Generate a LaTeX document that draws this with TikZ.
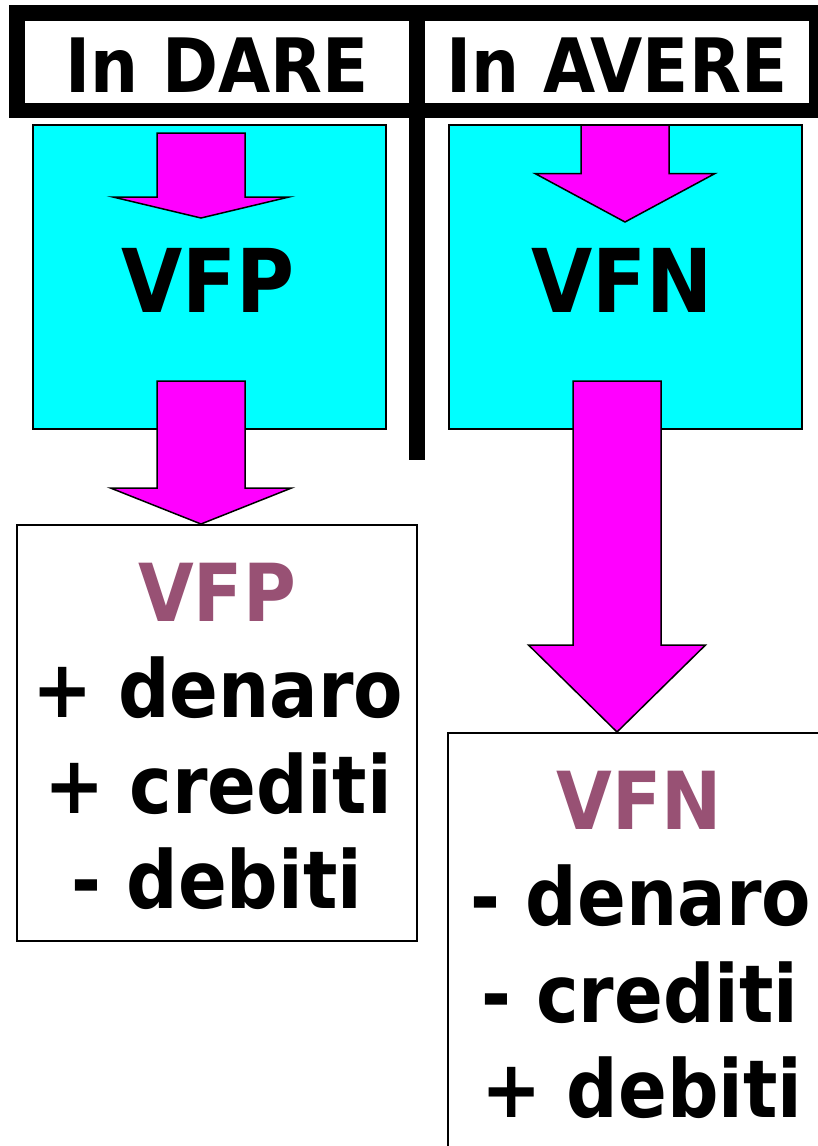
\documentclass[tikz,border=0pt]{standalone}
\usepackage{fontspec}
\setmainfont{DejaVu Sans Condensed}
\usetikzlibrary{positioning}

\definecolor{ciano}{RGB}{0,255,255}
\definecolor{fucsia}{RGB}{255,0,255}
\definecolor{prugna}{RGB}{152,81,116}

% freccia a blocco verso il basso: x centro, y cima, y spalle, y punta, mezzo fusto, mezza testa
\newcommand{\frecciagiu}[6]{%
  \draw[freccia] ({#1-#5},#2) -- ({#1+#5},#2) -- ({#1+#5},#3) -- ({#1+#6},#3)
    -- (#1,#4) -- ({#1-#6},#3) -- ({#1-#5},#3) -- cycle;}

\begin{document}
\begin{tikzpicture}[x=1pt,y=-1pt,
          cella/.style={rectangle,fill=white,inner sep=0pt,minimum width=384pt,minimum height=82pt},
          scatola/.style={rectangle,draw=black,fill=ciano,line width=2pt,inner sep=0pt,minimum width=353pt,minimum height=304pt},
          conto/.style={rectangle,draw=black,fill=white,line width=2pt,inner sep=0pt},
          freccia/.style={draw=black,fill=fucsia,line width=1.5pt,line join=miter},
          titolo/.style={anchor=base,inner sep=0pt,font=\fontsize{75}{90}\selectfont\bfseries},
          grande/.style={anchor=base,inner sep=0pt,font=\fontsize{88}{100}\selectfont\bfseries},
          voce/.style={anchor=base,inner sep=0pt,font=\fontsize{80}{96}\selectfont\bfseries}]
          \useasboundingbox (0,0) rectangle (818,1146);
          \clip (0,0) rectangle (818,1146);
          % intestazione
          \fill (9,5) rectangle (830,118);
          \fill (409,118) rectangle (425,460);
          \node[cella] (dare)  at (217,62) {};
          \node[cella] (avere) at (617,62) {};
          \node[titolo] (daretxt)  at (217,92) {In DARE};
          \node[titolo] (averetxt) at (617,92) {In AVERE};
          % riquadri
          \node[scatola] (vfp) at (209.5,277) {};
          \node[scatola] (vfn) at (625,277) {};
          \node[conto,minimum width=400pt,minimum height=416pt] (contop) at (217,733) {};
          \node[conto,minimum width=392pt,minimum height=437pt] (conton) at (644,951.5) {};
          % frecce
          \frecciagiu{201}{133}{197}{218}{44}{88}
          \frecciagiu{625}{125}{173.5}{222}{44}{90}
          \frecciagiu{201}{381}{488}{524}{44}{90.5}
          \frecciagiu{617}{381}{645}{732}{44}{88.5}
          \node[grande] (vfptxt) at (208,312) {VFP};
          \node[grande] (vfntxt) at (622,312) {VFN};
          % voci
          \node[voce,text=prugna] (pvfp) at (217,621) {VFP};
          \node[voce] (pden) at (218,717) {+ denaro};
          \node[voce] (pcre) at (218,813) {+ crediti};
          \node[voce] (pdeb) at (217,908) {- debiti};
          \node[voce,text=prugna] (nvfn) at (639,829) {VFN};
          \node[voce] (nden) at (641,925) {- denaro};
          \node[voce] (ncre) at (640,1022) {- crediti};
          \node[voce] (ndeb) at (642,1117) {+ debiti};
        \end{tikzpicture}
\end{document}
